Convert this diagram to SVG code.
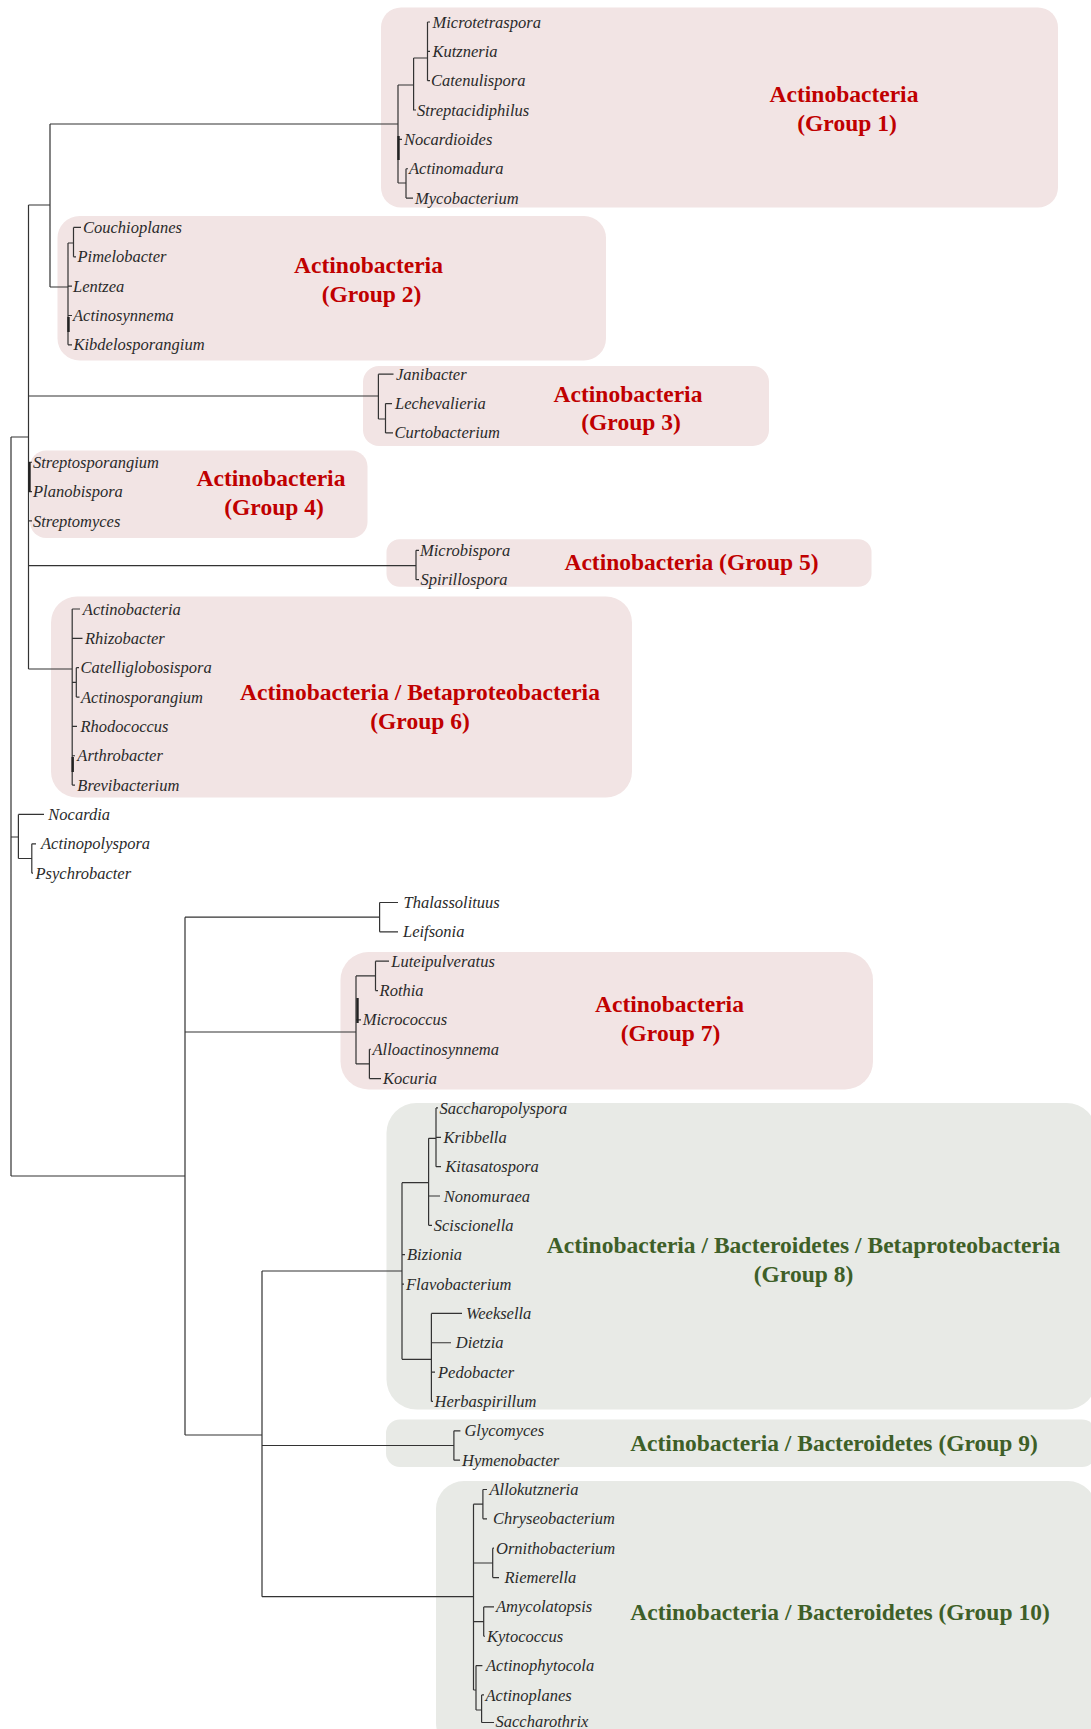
<svg xmlns="http://www.w3.org/2000/svg" width="1091" height="1729" viewBox="0 0 1091 1729">
  <style>
    .bg { fill: #ffffff; }
    .pink { fill: #f2e4e4; }
    .grey { fill: #e8eae6; }
    .title { font-family: "Liberation Serif", "Times New Roman", serif; font-weight: bold; font-size: 23.5px; text-anchor: middle; }
    .red { fill: #c00000; }
    .green { fill: #3e5f28; }
    .taxon { font-family: "Liberation Serif", "Times New Roman", serif; font-style: italic; font-size: 16.5px; fill: #2a2a2a; }
    .edge { fill: none; stroke: #333333; stroke-width: 1.2; }
    .edge-bold { fill: none; stroke: #222222; stroke-width: 2.4; }
  </style>

  <rect class="bg" x="0" y="0" width="1091" height="1729"/>

  <!-- Clade boxes with their titles -->
  <g id="group-1">
    <rect class="pink" x="381" y="7.5" width="677" height="200" rx="20"/>
    <text class="title red" x="844" y="102">Actinobacteria</text>
    <text class="title red" x="847" y="131">(Group 1)</text>
  </g>
  <g id="group-2">
    <rect class="pink" x="57.5" y="216" width="548.5" height="144.5" rx="22"/>
    <text class="title red" x="368.5" y="273">Actinobacteria</text>
    <text class="title red" x="371.5" y="302">(Group 2)</text>
  </g>
  <g id="group-3">
    <rect class="pink" x="363" y="366" width="406" height="80" rx="16"/>
    <text class="title red" x="628" y="401.5">Actinobacteria</text>
    <text class="title red" x="631" y="430">(Group 3)</text>
  </g>
  <g id="group-4">
    <rect class="pink" x="30" y="450.5" width="337.5" height="87.5" rx="16"/>
    <text class="title red" x="271" y="486">Actinobacteria</text>
    <text class="title red" x="274" y="515">(Group 4)</text>
  </g>
  <g id="group-5">
    <rect class="pink" x="386.5" y="539.3" width="485" height="47.5" rx="13"/>
    <text class="title red" x="691.5" y="569.5">Actinobacteria (Group 5)</text>
  </g>
  <g id="group-6">
    <rect class="pink" x="51" y="596.5" width="581" height="201" rx="26"/>
    <text class="title red" x="420" y="700">Actinobacteria / Betaproteobacteria</text>
    <text class="title red" x="420" y="728.5">(Group 6)</text>
  </g>
  <g id="group-7">
    <rect class="pink" x="340.5" y="952" width="532.5" height="137.5" rx="28"/>
    <text class="title red" x="669.5" y="1012">Actinobacteria</text>
    <text class="title red" x="670.5" y="1040.5">(Group 7)</text>
  </g>
  <g id="group-8">
    <rect class="grey" x="386.5" y="1103" width="710" height="306.5" rx="30"/>
    <text class="title green" x="803.5" y="1253">Actinobacteria / Bacteroidetes / Betaproteobacteria</text>
    <text class="title green" x="803.5" y="1281.5">(Group 8)</text>
  </g>
  <g id="group-9">
    <rect class="grey" x="386" y="1419.5" width="710" height="47.5" rx="14"/>
    <text class="title green" x="834" y="1451">Actinobacteria / Bacteroidetes (Group 9)</text>
  </g>
  <g id="group-10">
    <rect class="grey" x="436" y="1481" width="660" height="270" rx="28"/>
    <text class="title green" x="840" y="1620">Actinobacteria / Bacteroidetes (Group 10)</text>
  </g>

  <!-- Tree branches -->
  <g id="connectors">
    <path class="edge" d="
      M11 437V1176 M11 437H28.5
      M28.5 205V669 M28.5 205H50
      M50 124V287 M50 124H398
      M398 85V183 M398 85H413.6
      M413.6 58V110H416 M413.6 58H427.5
      M427.5 22V80.7 M427.5 22H430 M427.5 51.35H430 M427.5 80.7H430
      M398 139.4H402
      M398 183H406 M406 168.75V198.1 M406 168.75H408 M406 198.1H413
      M50 287H68 M68 243V344.85 M68 243H73.5
      M73.5 227.45V256.8 M73.5 227.45H81 M73.5 256.8H76
      M68 286.15H72 M68 315.5H72 M68 344.85H72
      M28.5 396H378.4 M378.4 374.2V419 M378.4 374.2H393.5
      M378.4 419H385.5 M385.5 403.55V432.9 M385.5 403.55H392 M385.5 432.9H393
      M28.5 462.25H32 M28.5 491.6H32 M28.5 520.95H32
      M28.5 565.7H416 M416 550.3V579.65 M416 550.3H419 M416 579.65H419
      M28.5 669H72.2 M72.2 609V785.1 M72.2 609H80 M72.2 638.35H82.5
      M72.2 682.4H76.3 M76.3 667.7V697.05 M76.3 667.7H79 M76.3 697.05H79.5
      M72.2 726.4H77 M72.2 755.75H75 M72.2 785.1H75
      M11 837H18.4 M18.4 814.45V858.5 M18.4 814.45H44 M18.4 858.5H31.8
      M31.8 843.8V873.15 M31.8 843.8H36 M31.8 873.15H33
      M11 1176H185 M185 917.2V1435
      M185 917.2H379.6 M379.6 902.5V931.85 M379.6 902.5H398 M379.6 931.85H398
      M185 1032H356 M356 975.9V1063.9 M356 975.9H375.5
      M375.5 961.2V990.55 M375.5 961.2H389 M375.5 990.55H378
      M356 1019.9H361
      M356 1063.9H369.4 M369.4 1049.25V1078.6 M369.4 1049.25H371 M369.4 1078.6H381
      M185 1435H262 M262 1271V1596.7
      M262 1271H402 M402 1182.7V1359.3 M402 1182.7H428.6
      M428.6 1138.3V1225.35 M428.6 1138.3H436
      M436 1107.95V1166.65 M436 1107.95H438 M436 1137.3H441 M436 1166.65H441
      M428.6 1196H440 M428.6 1225.35H432
      M402 1254.7H405 M402 1284.05H404
      M402 1359.3H431.4 M431.4 1313.4V1401.45
      M431.4 1313.4H462 M431.4 1342.75H451 M431.4 1372.1H435 M431.4 1401.45H433
      M262 1445.5H453.9 M453.9 1430.8V1460.15 M453.9 1430.8H460.4 M453.9 1460.15H460
      M262 1596.7H473.5 M473.5 1504.2V1690
      M473.5 1504.2H482.9 M482.9 1489.5V1518.85 M482.9 1489.5H487 M482.9 1518.85H487
      M473.5 1563H492.7 M492.7 1548.2V1577.55 M492.7 1548.2H494 M492.7 1577.55H499
      M473.5 1621.6H483.7 M483.7 1606.9V1636.25 M483.7 1606.9H494 M483.7 1636.25H485
      M473.5 1690H476 M476 1665.6V1710 M476 1665.6H482.4
      M476 1710H481.6 M481.6 1694.95V1722.5 M481.6 1694.95H484 M481.6 1722.5H494"/>
    <path class="edge-bold" d="M398.5 136V160 M68.5 317V332 M29.5 462V492 M72.7 757V772 M357.5 998V1023"/>
  </g>

  <!-- Taxon labels -->
  <g id="taxa">
    <g id="t-microtetraspora"><text class="taxon" x="432.5" y="27.5">Microtetraspora</text></g>
    <g id="t-kutzneria"><text class="taxon" x="432.5" y="56.9">Kutzneria</text></g>
    <g id="t-catenulispora"><text class="taxon" x="431" y="86.2">Catenulispora</text></g>
    <g id="t-streptacidiphilus"><text class="taxon" x="417" y="115.6">Streptacidiphilus</text></g>
    <g id="t-nocardioides"><text class="taxon" x="404" y="144.9">Nocardioides</text></g>
    <g id="t-actinomadura"><text class="taxon" x="409" y="174.3">Actinomadura</text></g>
    <g id="t-mycobacterium"><text class="taxon" x="415" y="203.6">Mycobacterium</text></g>
    <g id="t-couchioplanes"><text class="taxon" x="83" y="233">Couchioplanes</text></g>
    <g id="t-pimelobacter"><text class="taxon" x="77.5" y="262.3">Pimelobacter</text></g>
    <g id="t-lentzea"><text class="taxon" x="73" y="291.7">Lentzea</text></g>
    <g id="t-actinosynnema"><text class="taxon" x="73" y="321">Actinosynnema</text></g>
    <g id="t-kibdelosporangium"><text class="taxon" x="73.5" y="350.4">Kibdelosporangium</text></g>
    <g id="t-janibacter"><text class="taxon" x="396" y="379.7">Janibacter</text></g>
    <g id="t-lechevalieria"><text class="taxon" x="395" y="409.1">Lechevalieria</text></g>
    <g id="t-curtobacterium"><text class="taxon" x="394.5" y="438.4">Curtobacterium</text></g>
    <g id="t-streptosporangium"><text class="taxon" x="33" y="467.8">Streptosporangium</text></g>
    <g id="t-planobispora"><text class="taxon" x="33" y="497.1">Planobispora</text></g>
    <g id="t-streptomyces"><text class="taxon" x="33" y="526.5">Streptomyces</text></g>
    <g id="t-microbispora"><text class="taxon" x="420" y="555.8">Microbispora</text></g>
    <g id="t-spirillospora"><text class="taxon" x="420.5" y="585.2">Spirillospora</text></g>
    <g id="t-actinobacteria"><text class="taxon" x="82.8" y="614.5">Actinobacteria</text></g>
    <g id="t-rhizobacter"><text class="taxon" x="85" y="643.9">Rhizobacter</text></g>
    <g id="t-catelliglobosispora"><text class="taxon" x="80.6" y="673.2">Catelliglobosispora</text></g>
    <g id="t-actinosporangium"><text class="taxon" x="81" y="702.6">Actinosporangium</text></g>
    <g id="t-rhodococcus"><text class="taxon" x="80.5" y="731.9">Rhodococcus</text></g>
    <g id="t-arthrobacter"><text class="taxon" x="77.3" y="761.3">Arthrobacter</text></g>
    <g id="t-brevibacterium"><text class="taxon" x="77.3" y="790.6">Brevibacterium</text></g>
    <g id="t-nocardia"><text class="taxon" x="48.3" y="820">Nocardia</text></g>
    <g id="t-actinopolyspora"><text class="taxon" x="41" y="849.3">Actinopolyspora</text></g>
    <g id="t-psychrobacter"><text class="taxon" x="35.5" y="878.7">Psychrobacter</text></g>
    <g id="t-thalassolituus"><text class="taxon" x="403.5" y="908">Thalassolituus</text></g>
    <g id="t-leifsonia"><text class="taxon" x="403" y="937.4">Leifsonia</text></g>
    <g id="t-luteipulveratus"><text class="taxon" x="391.3" y="966.7">Luteipulveratus</text></g>
    <g id="t-rothia"><text class="taxon" x="379.6" y="996.1">Rothia</text></g>
    <g id="t-micrococcus"><text class="taxon" x="362.7" y="1025.4">Micrococcus</text></g>
    <g id="t-alloactinosynnema"><text class="taxon" x="372.5" y="1054.8">Alloactinosynnema</text></g>
    <g id="t-kocuria"><text class="taxon" x="383" y="1084.1">Kocuria</text></g>
    <g id="t-saccharopolyspora"><text class="taxon" x="439.5" y="1113.5">Saccharopolyspora</text></g>
    <g id="t-kribbella"><text class="taxon" x="443.4" y="1142.8">Kribbella</text></g>
    <g id="t-kitasatospora"><text class="taxon" x="445.3" y="1172.2">Kitasatospora</text></g>
    <g id="t-nonomuraea"><text class="taxon" x="443.8" y="1201.5">Nonomuraea</text></g>
    <g id="t-sciscionella"><text class="taxon" x="433.8" y="1230.9">Sciscionella</text></g>
    <g id="t-bizionia"><text class="taxon" x="407" y="1260.2">Bizionia</text></g>
    <g id="t-flavobacterium"><text class="taxon" x="406" y="1289.6">Flavobacterium</text></g>
    <g id="t-weeksella"><text class="taxon" x="466" y="1318.9">Weeksella</text></g>
    <g id="t-dietzia"><text class="taxon" x="455.8" y="1348.3">Dietzia</text></g>
    <g id="t-pedobacter"><text class="taxon" x="438" y="1377.6">Pedobacter</text></g>
    <g id="t-herbaspirillum"><text class="taxon" x="434.6" y="1407">Herbaspirillum</text></g>
    <g id="t-glycomyces"><text class="taxon" x="464.4" y="1436.3">Glycomyces</text></g>
    <g id="t-hymenobacter"><text class="taxon" x="462" y="1465.7">Hymenobacter</text></g>
    <g id="t-allokutzneria"><text class="taxon" x="489.5" y="1495">Allokutzneria</text></g>
    <g id="t-chryseobacterium"><text class="taxon" x="493" y="1524.4">Chryseobacterium</text></g>
    <g id="t-ornithobacterium"><text class="taxon" x="496" y="1553.7">Ornithobacterium</text></g>
    <g id="t-riemerella"><text class="taxon" x="504.5" y="1583.1">Riemerella</text></g>
    <g id="t-amycolatopsis"><text class="taxon" x="496" y="1612.4">Amycolatopsis</text></g>
    <g id="t-kytococcus"><text class="taxon" x="487" y="1641.8">Kytococcus</text></g>
    <g id="t-actinophytocola"><text class="taxon" x="486" y="1671.1">Actinophytocola</text></g>
    <g id="t-actinoplanes"><text class="taxon" x="485.5" y="1700.5">Actinoplanes</text></g>
    <g id="t-saccharothrix"><text class="taxon" x="495.5" y="1726.5">Saccharothrix</text></g>
  </g>
</svg>
